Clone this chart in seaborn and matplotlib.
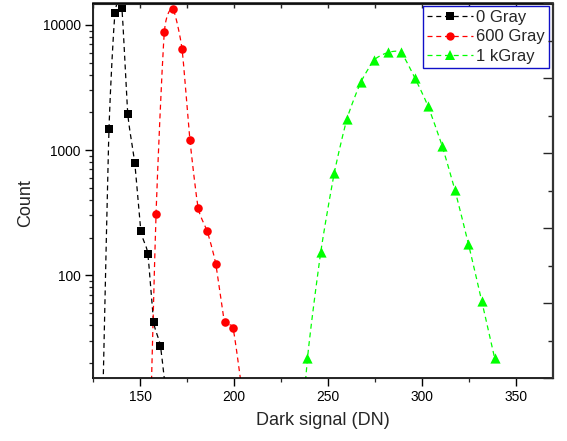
import numpy as np
import matplotlib
matplotlib.use("Agg")
import matplotlib.pyplot as plt
from matplotlib.lines import Line2D
from matplotlib.ticker import MultipleLocator, LogLocator, NullFormatter, FixedLocator, FuncFormatter
import seaborn as sns

# Dark-signal histograms (DN bin centre, pixel count) after each dose.
# The outermost bins lie below the lower count limit; they are kept so the
# dashed curves run off the bottom edge of the plot.
dn_0gy = [130.2, 133.5, 136.7, 140.3, 143.5, 147.2, 150.5, 154.1, 157.3, 160.8, 164.2]
count_0gy = [10, 1475, 12530, 13600, 1942, 785, 225, 149, 42, 27.4, 10]

dn_600gy = [154.1, 158.5, 162.9, 167.5, 172.3, 176.5, 180.9, 185.7, 190.2, 194.9, 199.4, 203.9]
count_600gy = [1, 306, 8690, 13340, 6440, 1213, 344, 225, 124, 42.5, 37.9, 13]

dn_1kgy = [231.9, 239.0, 246.1, 253.2, 260.0, 267.3, 274.6, 281.8, 288.7, 296.1,
           303.1, 310.5, 317.4, 324.5, 331.6, 338.5]
count_1kgy = [1, 21.7, 154.6, 650, 1775, 3467, 5262, 6013, 6013, 3760,
              2235, 1086, 476, 179, 62.4, 21.7]

labels = ["0 Gray", "600 Gray", "1 kGray"]
colors = ["#000000", "#ff0000", "#00ff00"]
markers = ["s", "o", "^"]
marker_area = [32, 38, 54]
marker_size = [5.4, 6.0, 7.2]

series = [(dn_0gy, count_0gy), (dn_600gy, count_600gy), (dn_1kgy, count_1kgy)]


def smooth(x, y, n=30, tension=0.6):
    """Cardinal spline through the points in (x, log10 y) space."""
    P = np.column_stack([np.asarray(x, float), np.log10(np.asarray(y, float))])
    m = np.empty_like(P)
    m[1:-1] = (P[2:] - P[:-2]) / 2.0
    m[0] = P[1] - P[0]
    m[-1] = P[-1] - P[-2]
    m *= tension
    t = np.linspace(0, 1, n, endpoint=False)[:, None]
    h00 = 2 * t**3 - 3 * t**2 + 1
    h10 = t**3 - 2 * t**2 + t
    h01 = -2 * t**3 + 3 * t**2
    h11 = t**3 - t**2
    segs = [h00 * P[i] + h10 * m[i] + h01 * P[i + 1] + h11 * m[i + 1]
            for i in range(len(P) - 1)]
    pts = np.vstack(segs + [P[-1:]])
    return pts[:, 0], 10 ** pts[:, 1]


sns.set_style("ticks")
plt.rcParams["font.family"] = ["Liberation Sans", "DejaVu Sans"]

fig = plt.figure(figsize=(5.67, 4.41), dpi=100)
ax = fig.add_axes([93 / 567, 63 / 441, 460 / 567, 374.5 / 441])
ax.set_yscale("log")
ax.set_xlim(125, 369.5)
ax.set_ylim(15.1, 14800)

dash = (0, (4, 3))
for (xv, yv), c, mk, s in zip(series, colors, markers, marker_area):
    xs, ys = smooth(xv, yv)
    sns.lineplot(x=xs, y=ys, ax=ax, color=c, linewidth=0.9, linestyle=dash,
                 sort=False, estimator=None, legend=False)
    sns.scatterplot(x=xv, y=yv, ax=ax, color=c, marker=mk, s=s, linewidth=0,
                    legend=False, zorder=3)

# bottom / left axes: ticks outward
ax.xaxis.set_major_locator(MultipleLocator(50))
ax.xaxis.set_minor_locator(MultipleLocator(25))
ax.yaxis.set_major_locator(FixedLocator([100, 1000, 10000]))
ax.yaxis.set_major_formatter(FuncFormatter(lambda v, p: f"{v:g}"))
ax.yaxis.set_minor_locator(LogLocator(base=10, subs=np.arange(2, 10)))
ax.yaxis.set_minor_formatter(NullFormatter())
ax.tick_params(axis="both", which="major", direction="out", length=5.5, width=1,
               labelsize=9.9, pad=3, colors="black")
ax.tick_params(axis="both", which="minor", direction="out", length=3, width=0.9)
ax.tick_params(axis="y", which="major", length=6)

for sp in ax.spines.values():
    sp.set_visible(True)
    sp.set_linewidth(1.2)
    sp.set_color("black")

# mirrored top axis, ticks inward
top = ax.secondary_xaxis("top")
top.xaxis.set_major_locator(MultipleLocator(50))
top.xaxis.set_minor_locator(MultipleLocator(25))
top.tick_params(axis="x", which="both", direction="in", length=3.5, width=1,
                labeltop=False, labelbottom=False)
top.spines["top"].set_linewidth(1.2)

# right axis with evenly spaced inward ticks
axr = ax.twinx()
axr.set_ylim(0, 1)
axr.yaxis.set_major_locator(MultipleLocator(0.2))
axr.yaxis.set_minor_locator(MultipleLocator(0.1))
axr.tick_params(axis="y", which="major", direction="in", length=7, width=1,
                labelright=False)
axr.tick_params(axis="y", which="minor", direction="in", length=3.5, width=1)
axr.spines["right"].set_linewidth(1.6)
axr.spines["right"].set_color("#333333")

ax.set_xlabel("Dark signal (DN)", fontsize=13)
ax.set_ylabel("Count", fontsize=13)
ax.xaxis.set_label_coords(0.5, -0.09)
ax.yaxis.set_label_coords(-0.128, 0.468)

handles = [Line2D([], [], color=c, lw=0.9, linestyle=dash, marker=mk, ms=ms,
                  markeredgewidth=0)
           for c, mk, ms in zip(colors, markers, marker_size)]
leg = ax.legend(handles, labels, loc="upper right",
                bbox_to_anchor=(549 / 567, 435 / 441), bbox_transform=fig.transFigure,
                frameon=True, fancybox=False, framealpha=1, edgecolor="#1010c8",
                fontsize=12, handlelength=2.75, handletextpad=0.2, borderpad=0.25,
                labelspacing=0.26, borderaxespad=0, numpoints=1)
leg.get_frame().set_linewidth(1.0)

fig.savefig("out.png", dpi=100)
